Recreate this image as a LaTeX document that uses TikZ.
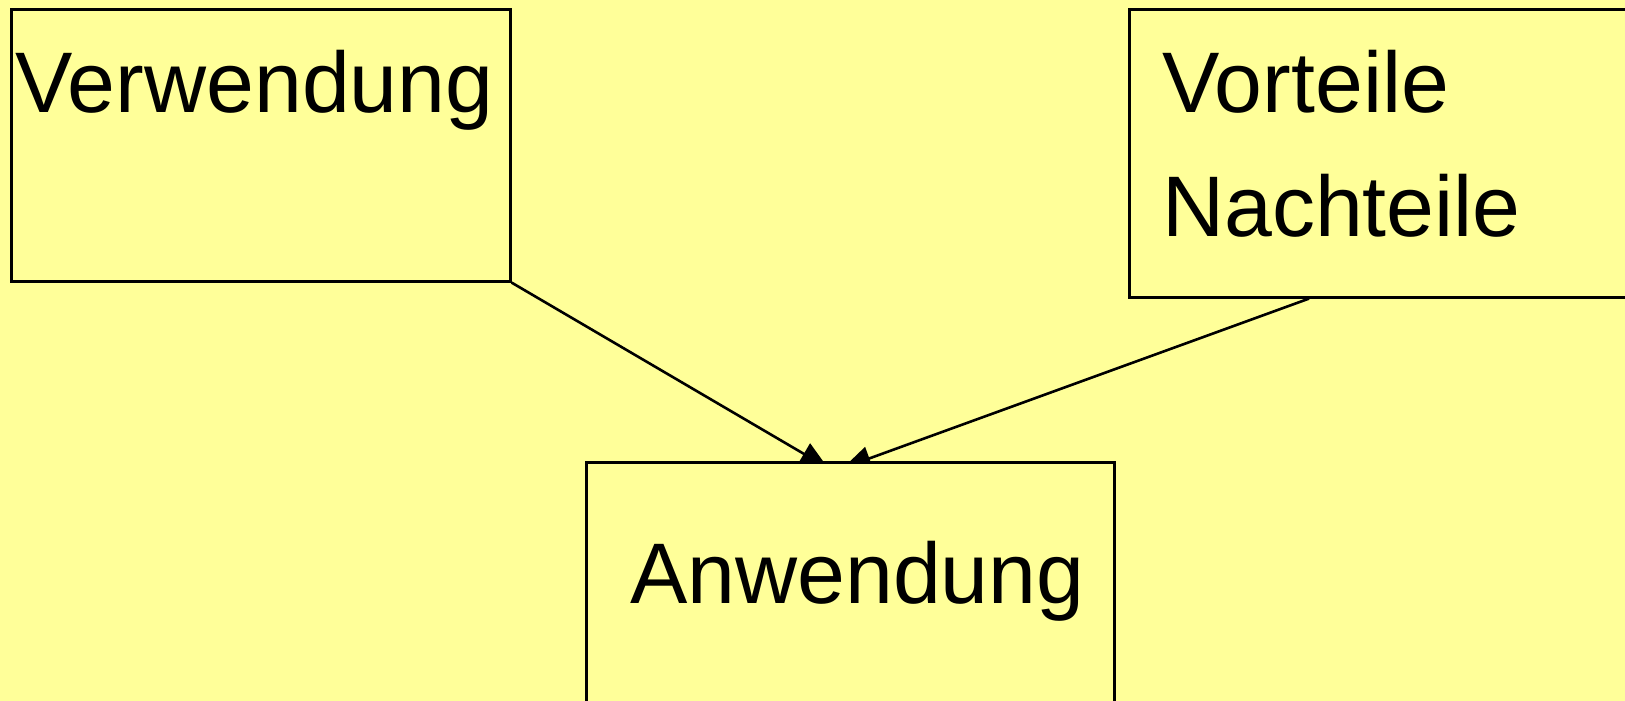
\documentclass[tikz,border=0pt]{standalone}
\usepackage{fontspec}
\setmainfont{Liberation Sans}
\usetikzlibrary{arrows.meta}
\definecolor{bgyellow}{HTML}{FFFF99}
\tikzset{
  box/.style={draw=black, line width=2.6pt, fill=bgyellow, rectangle, inner sep=0pt, anchor=north west},
  lbl/.style={inner sep=0pt, anchor=base west, font=\fontsize{86}{86}\selectfont},
  conn/.style={draw=black, line width=2.6pt, -{Triangle[length=28pt,width=24pt]}}
}
\begin{document}
\begin{tikzpicture}[x=1pt,y=-1pt]
\fill[bgyellow] (0,0) rectangle (1625,701);
\useasboundingbox (0,0) rectangle (1625,701);
\begin{scope}
\clip (0,0) rectangle (1625,701);
\node[box, minimum width=499pt, minimum height=272pt] (verw) at (10,8) {};
\node[box, minimum width=520pt, minimum height=288pt] (vort) at (1128,8) {};
\coordinate (t1) at (828,468);
\coordinate (t2) at (843,468);
\draw[conn] (verw.south east) -- (t1);
\draw[conn] (vort.south west -| 1309,0) -- (t2);
\node[box, minimum width=528pt, minimum height=320pt] (anw) at (585,461) {};
\end{scope}
\node[lbl] (tverw) at (15,112) {Verwendung};
\node[lbl] (tvort) at (1162,112) {Vorteile};
\node[lbl] (tnach) at (1162,236) {Nachteile};
\node[lbl] (tanw) at (630,603) {Anwendung};
\end{tikzpicture}
\end{document}
